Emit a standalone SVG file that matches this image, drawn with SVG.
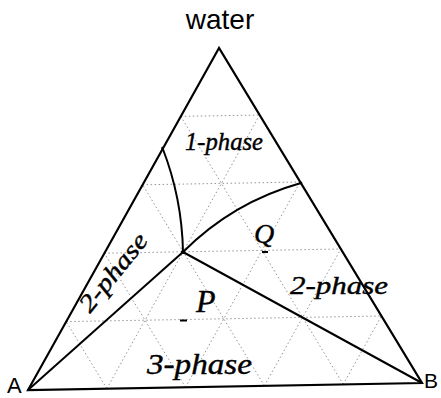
<svg xmlns="http://www.w3.org/2000/svg" width="441" height="398" viewBox="0 0 441 398">
<style>
.grid{stroke:#888;stroke-width:0.9;stroke-dasharray:1.5,2.5;fill:none}
.edge{stroke:#000;stroke-width:2.2;fill:none;stroke-linejoin:miter}
.ln{stroke:#000;stroke-width:2;fill:none}
.sans{font-family:"Liberation Sans",Arial,sans-serif;fill:#000}
.hand{font-family:"Liberation Serif","DejaVu Serif",serif;font-style:italic;fill:#000;stroke:#000;stroke-width:0.4}
</style>
<rect width="441" height="398" fill="#fff"/>
<g id="grid">
<line class="grid" x1="180.8" y1="116.4" x2="259.6" y2="115"/>
<line class="grid" x1="142.6" y1="184.8" x2="300.2" y2="182"/>
<line class="grid" x1="104.4" y1="253.2" x2="340.8" y2="249"/>
<line class="grid" x1="66.2" y1="321.6" x2="381.4" y2="316"/>
<line class="grid" x1="106.8" y1="388.6" x2="259.6" y2="115"/>
<line class="grid" x1="185.6" y1="387.2" x2="300.2" y2="182"/>
<line class="grid" x1="264.4" y1="385.8" x2="340.8" y2="249"/>
<line class="grid" x1="343.2" y1="384.4" x2="381.4" y2="316"/>
<line class="grid" x1="343.2" y1="384.4" x2="180.8" y2="116.4"/>
<line class="grid" x1="264.4" y1="385.8" x2="142.6" y2="184.8"/>
<line class="grid" x1="185.6" y1="387.2" x2="104.4" y2="253.2"/>
<line class="grid" x1="106.8" y1="388.6" x2="66.2" y2="321.6"/>
</g>
<g id="triangle">
<polygon class="edge" points="219,48 28,390 422,383"/>
</g>
<g id="connectors">
<path class="ln" d="M162.5,148 Q182,198 183,252"/>
<path class="ln" d="M183,252 Q233,202 301,183"/>
<line class="ln" x1="28" y1="390" x2="183" y2="252"/>
<line class="ln" x1="183" y1="252" x2="422" y2="383"/>
<circle cx="183" cy="252" r="2" fill="#000"/>
<circle cx="162.5" cy="148" r="1.3" fill="#000"/>
<circle cx="301" cy="183" r="1.3" fill="#000"/>
</g>
<g id="labels">
<text class="sans" x="220" y="29" font-size="28" text-anchor="middle">water</text>
<text class="sans" x="7" y="393" font-size="22">A</text>
<text class="sans" x="424" y="388" font-size="21">B</text>
<text class="hand" x="185" y="150" font-size="25" textLength="78" lengthAdjust="spacingAndGlyphs">1-phase</text>
<text class="hand" x="0" y="0" font-size="25" textLength="94" lengthAdjust="spacingAndGlyphs" transform="translate(90,314) rotate(-51)">2-phase</text>
<text class="hand" x="290" y="294" font-size="25" textLength="98" lengthAdjust="spacingAndGlyphs">2-phase</text>
<text class="hand" x="147" y="374" font-size="29" textLength="105" lengthAdjust="spacingAndGlyphs">3-phase</text>
<text class="hand" x="196" y="312" font-size="32">P</text>
<text class="hand" x="254" y="243" font-size="28">Q</text>
</g>
<g id="marks">
<line x1="180" y1="320.5" x2="187" y2="320.5" stroke="#000" stroke-width="2"/>
<line x1="262" y1="252" x2="268" y2="252" stroke="#000" stroke-width="2"/>
</g>
</svg>
